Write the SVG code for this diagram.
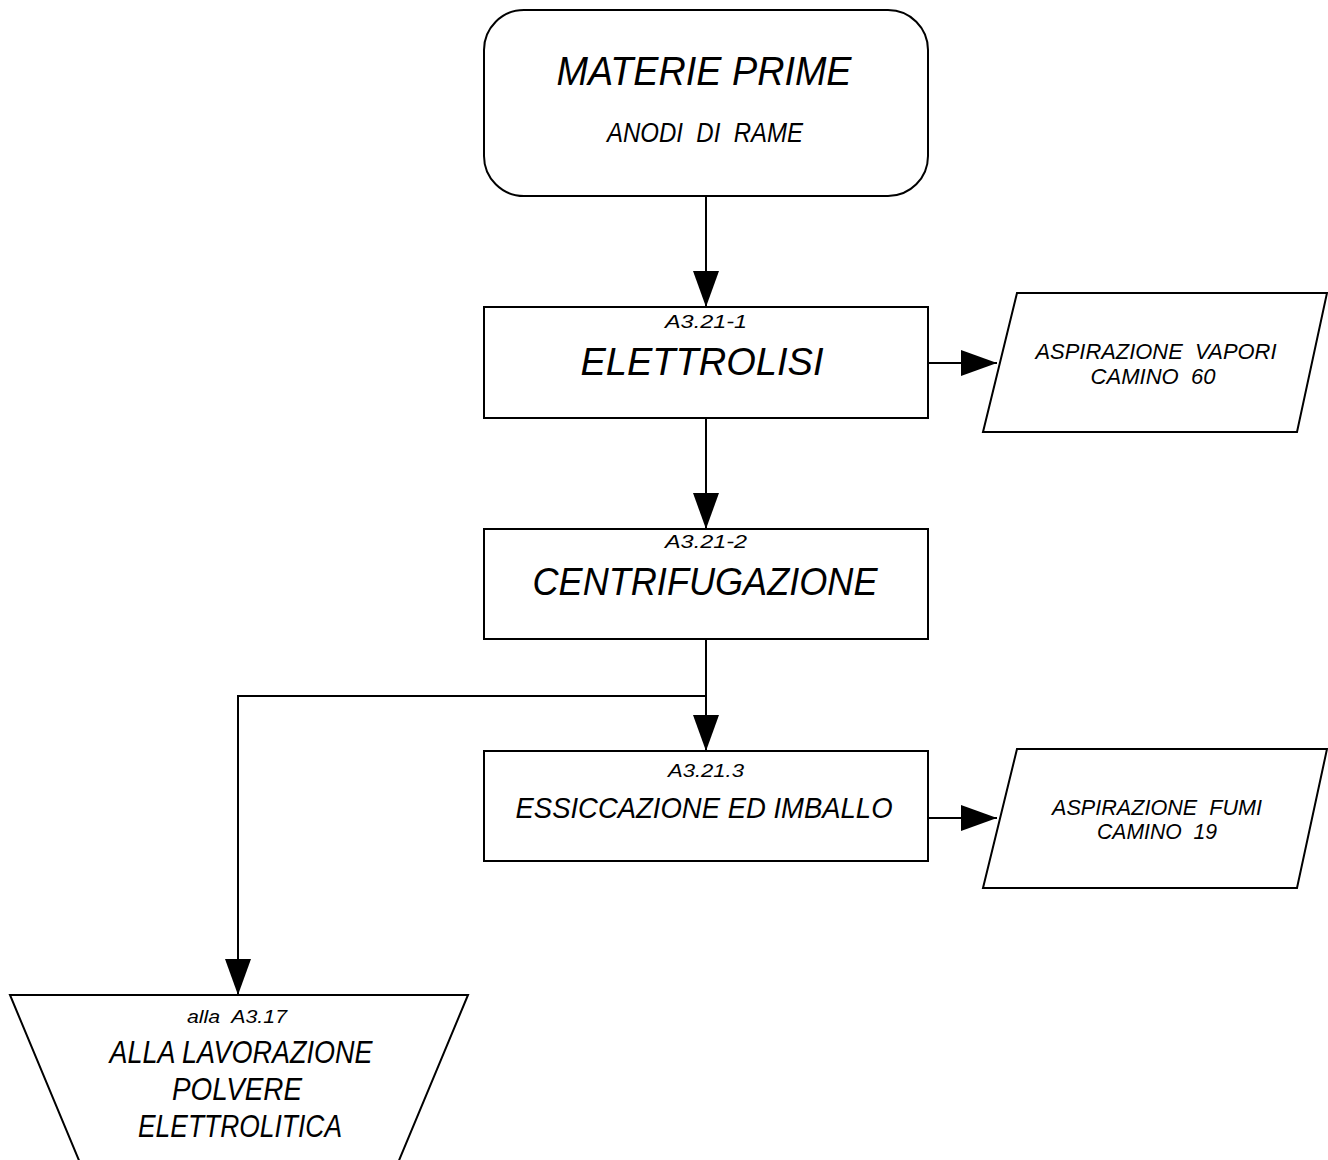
<svg xmlns="http://www.w3.org/2000/svg" width="1328" height="1160" viewBox="0 0 1328 1160">
<style>
.s{fill:#fff;stroke:#000;stroke-width:2}
.c{fill:none;stroke:#000;stroke-width:2}
text{font-family:"Liberation Sans",Arial,sans-serif;font-style:italic;fill:#000;text-anchor:middle;white-space:pre}
</style>
<defs>
<marker id="ah" viewBox="0 0 36 26" refX="36" refY="13" markerWidth="36" markerHeight="26" markerUnits="userSpaceOnUse" orient="auto">
<path d="M0,0 L36,13 L0,26 Z" fill="#000"/>
</marker>
</defs>
<rect width="1328" height="1160" fill="#fff"/>
<g id="connectors">
<line class="c" x1="706" y1="196" x2="706" y2="307" marker-end="url(#ah)"/>
<line class="c" x1="706" y1="418" x2="706" y2="529" marker-end="url(#ah)"/>
<line class="c" x1="706" y1="639" x2="706" y2="751" marker-end="url(#ah)"/>
<polyline class="c" points="706,696 238,696 238,995" marker-end="url(#ah)"/>
<line class="c" x1="928" y1="363" x2="997" y2="363" marker-end="url(#ah)"/>
<line class="c" x1="928" y1="818" x2="997" y2="818" marker-end="url(#ah)"/>
</g>
<g id="materie">
<rect class="s" x="484" y="10" width="444" height="186" rx="40" ry="40"/>
<text x="704" y="85" font-size="41" textLength="295" lengthAdjust="spacingAndGlyphs">MATERIE PRIME</text>
<text x="705" y="142" font-size="28" textLength="196" lengthAdjust="spacingAndGlyphs" xml:space="preserve">ANODI  DI  RAME</text>
</g>
<g id="elettrolisi">
<rect class="s" x="484" y="307" width="444" height="111"/>
<text x="706" y="328" font-size="18" textLength="82" lengthAdjust="spacingAndGlyphs">A3.21-1</text>
<text x="702" y="375" font-size="38" textLength="243" lengthAdjust="spacingAndGlyphs">ELETTROLISI</text>
</g>
<g id="vapori">
<polygon class="s" points="1017,293 1327,293 1297,432 983,432"/>
<text x="1156" y="359" font-size="22" textLength="241" lengthAdjust="spacingAndGlyphs" xml:space="preserve">ASPIRAZIONE  VAPORI</text>
<text x="1153" y="384" font-size="22" textLength="125" lengthAdjust="spacingAndGlyphs" xml:space="preserve">CAMINO  60</text>
</g>
<g id="centrifugazione">
<rect class="s" x="484" y="529" width="444" height="110"/>
<text x="706" y="548" font-size="18" textLength="82" lengthAdjust="spacingAndGlyphs">A3.21-2</text>
<text x="705" y="595" font-size="38" textLength="345" lengthAdjust="spacingAndGlyphs">CENTRIFUGAZIONE</text>
</g>
<g id="essiccazione">
<rect class="s" x="484" y="751" width="444" height="110"/>
<text x="706" y="777" font-size="18" textLength="76" lengthAdjust="spacingAndGlyphs">A3.21.3</text>
<text x="704" y="818" font-size="29" textLength="377" lengthAdjust="spacingAndGlyphs">ESSICCAZIONE ED IMBALLO</text>
</g>
<g id="fumi">
<polygon class="s" points="1017,749 1327,749 1297,888 983,888"/>
<text x="1157" y="815" font-size="22" textLength="210" lengthAdjust="spacingAndGlyphs" xml:space="preserve">ASPIRAZIONE  FUMI</text>
<text x="1157" y="839" font-size="22" textLength="120" lengthAdjust="spacingAndGlyphs" xml:space="preserve">CAMINO  19</text>
</g>
<g id="lavorazione">
<polygon class="s" points="10,995 468,995 395,1170 83,1170"/>
<text x="237" y="1023" font-size="19" textLength="100" lengthAdjust="spacingAndGlyphs" xml:space="preserve">alla  A3.17</text>
<text x="241" y="1063" font-size="31" textLength="263" lengthAdjust="spacingAndGlyphs">ALLA LAVORAZIONE</text>
<text x="237" y="1100" font-size="31" textLength="130" lengthAdjust="spacingAndGlyphs">POLVERE</text>
<text x="240" y="1137" font-size="31" textLength="204" lengthAdjust="spacingAndGlyphs">ELETTROLITICA</text>
</g>
</svg>
